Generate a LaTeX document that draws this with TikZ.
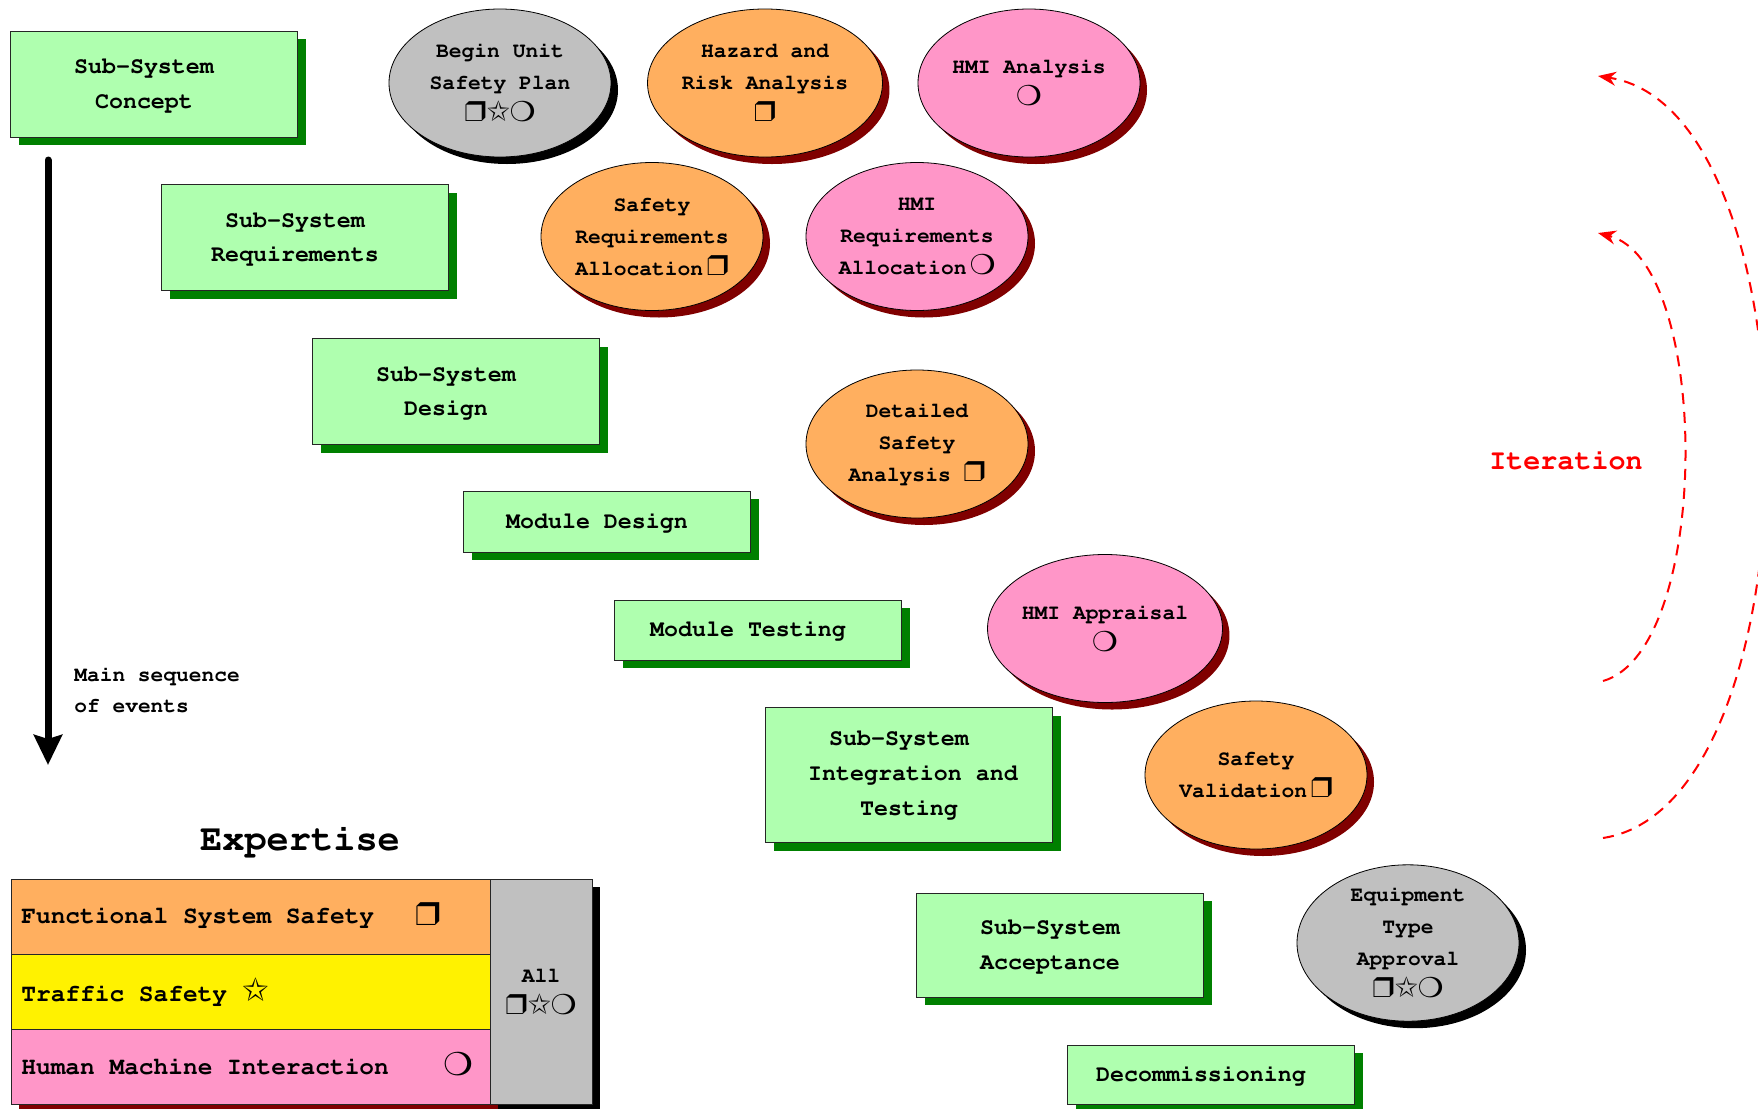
\documentclass[tikz,border=0pt]{standalone}
\usepackage[T1,TU]{fontenc}
\usepackage{pifont}
\usetikzlibrary{shapes.geometric,shadows,arrows.meta}

\definecolor{phasegreen}{RGB}{175,255,175}
\definecolor{phaseshade}{RGB}{0,128,0}
\definecolor{fsorange}{RGB}{255,175,95}
\definecolor{hmipink}{RGB}{255,150,200}
\definecolor{allgrey}{RGB}{192,192,192}
\definecolor{darkshade}{RGB}{128,0,0}

\newcommand\cour{\fontencoding{T1}\fontfamily{pcr}\selectfont}
\newcommand\fss{\scalebox{1.35}{\ding{114}}}
\newcommand\tfs{\scalebox{1.35}{\ding{73}}}
\newcommand\hmi{\scalebox{1.35}{\ding{109}}}
\newcommand\allsym{\fss\tfs\hmi}
\newcommand\steptext[1]{\begin{tabular}{@{}c@{\hspace{10pt}}}#1\end{tabular}}

\begin{document}
\begin{tikzpicture}[x=0.5pt,y=-0.5pt,
  phase/.style={draw=black!85, thin, fill=phasegreen, minimum width=143.5pt,
    minimum height=53pt, inner sep=0pt, align=center,
    font=\cour\bfseries\fontsize{11.65}{17.4}\selectfont,
    drop shadow={fill=phaseshade, opacity=1, shadow xshift=4pt, shadow yshift=-4pt}},
  activity/.style={ellipse, draw=black, thin, minimum width=111pt, minimum height=74pt,
    inner sep=0pt, align=center, font=\cour\bfseries\fontsize{10.65}{16}\selectfont,
    drop shadow={fill=#1, opacity=1, shadow xshift=3.5pt, shadow yshift=-3.5pt}},
  activity/.default=darkshade,
  fsact/.style={activity, fill=fsorange},
  hmiact/.style={activity, fill=hmipink},
  allact/.style={activity=black, fill=allgrey},
  legcell/.style={draw=black!85, thin, minimum width=239.5pt, minimum height=37.5pt,
    inner sep=0pt, drop shadow={fill=darkshade, opacity=1, shadow xshift=4pt, shadow yshift=-4pt}},
  legtext/.style={inner sep=0pt, font=\cour\bfseries\fontsize{12.25}{15}\selectfont},
  iterarrow/.style={red, line width=1pt, dash pattern=on 5.5pt off 4pt,
    -{Stealth[length=9pt,width=7pt]}}]
\useasboundingbox (0,0) rectangle (1758,1109);

\node[phase] (concept) at (154,84) {\steptext{Sub-System\\Concept}};
\node[phase] (requirements) at (305,237.5) {\steptext{Sub-System\\Requirements}};
\node[phase] (design) at (456,391.5) {\steptext{Sub-System\\Design}};
\node[phase, minimum height=30.5pt] (moddesign) at (607,521.5) {\steptext{Module Design}};
\node[phase, minimum height=30pt] (modtest) at (758,630) {\steptext{Module Testing}};
\node[phase, minimum height=67.5pt] (integration) at (909,775) {Sub-System\hspace*{10pt}\\\hspace*{4pt}Integration and\\Testing};
\node[phase, minimum height=52pt] (acceptance) at (1060,945) {\steptext{Sub-System\\Acceptance}};
\node[phase, minimum height=29.5pt] (decommission) at (1211,1074.5) {\steptext{Decommissioning}};

\node[allact] (unitplan) at (500,83) {Begin Unit\\Safety Plan\\\allsym};
\node[fsact] (hazard) at (765,83) {Hazard and\\Risk Analysis\\\fss};
\node[hmiact] (hmianalysis) at (1029,83) {HMI Analysis\\\hmi};
\node[fsact] (safetyreq) at (652,236.5) {Safety\\Requirements\\Allocation\,\fss};
\node[hmiact] (hmireq) at (917,236.5) {HMI\\Requirements\\Allocation\,\hmi};
\node[fsact] (detailed) at (917,444) {Detailed\\Safety\\Analysis \fss};
\node[hmiact] (hmiappraisal) at (1105,628.5) {HMI Appraisal\\\hmi};
\node[fsact] (validation) at (1256,775) {Safety\\Validation\,\fss};
\node[allact] (typeapproval) at (1408,943) {Equipment\\Type\\Approval\\\allsym};

\coordinate (seqtop) at (48,160);
\coordinate (seqend) at (48,765);
\draw[line width=3.5pt, line cap=round, -{Stealth[length=15pt,width=14pt,inset=2pt]}] (seqtop) -- (seqend);
\node[anchor=west, align=left, inner sep=0pt, font=\cour\bfseries\fontsize{10.6}{15.7}\selectfont] (seqlabel) at (74,690) {Main sequence\\of events};

\node[font=\cour\bfseries\fontsize{18.5}{20}\selectfont] (expertise) at (300,841) {Expertise};

\node[legcell, fill=fsorange] (fsrow) at (250.5,916.5) {};
\node[legcell, fill=yellow] (tsrow) at (250.5,991.5) {};
\node[legcell, fill=hmipink] (hmirow) at (250.5,1066.5) {};
\node[legcell, fill=allgrey, minimum width=51pt, minimum height=112.5pt, align=center,
  font=\cour\bfseries\fontsize{10.65}{16}\selectfont,
  drop shadow={fill=black, opacity=1, shadow xshift=4pt, shadow yshift=-4pt}] (allrow) at (541,991.5) {All\\\allsym};
\node[legtext, anchor=west] (fstext) at (21,916.5) {Functional System Safety};
\node[legtext] (fssym) at (428,914) {\fss};
\node[legtext, anchor=west] (tstext) at (21,991.5) {Traffic Safety \tfs};
\node[legtext, anchor=west] (hmitext) at (21,1066.5) {Human Machine Interaction};
\node[legtext] (hmisym) at (458,1064) {\hmi};

\node[red, font=\cour\bfseries\fontsize{14.2}{16}\selectfont] (iterlabel) at (1566,460) {Iteration};
\coordinate (innerfrom) at (1603,681);
\coordinate (innerto) at (1598,233);
\coordinate (outerfrom) at (1603,838);
\coordinate (outerto) at (1598,76);
\draw[iterarrow] (innerfrom) .. controls (1712,650) and (1712,262) .. (innerto);
\draw[iterarrow] (outerfrom) .. controls (1820,805) and (1820,110) .. (outerto);
\end{tikzpicture}
\end{document}
